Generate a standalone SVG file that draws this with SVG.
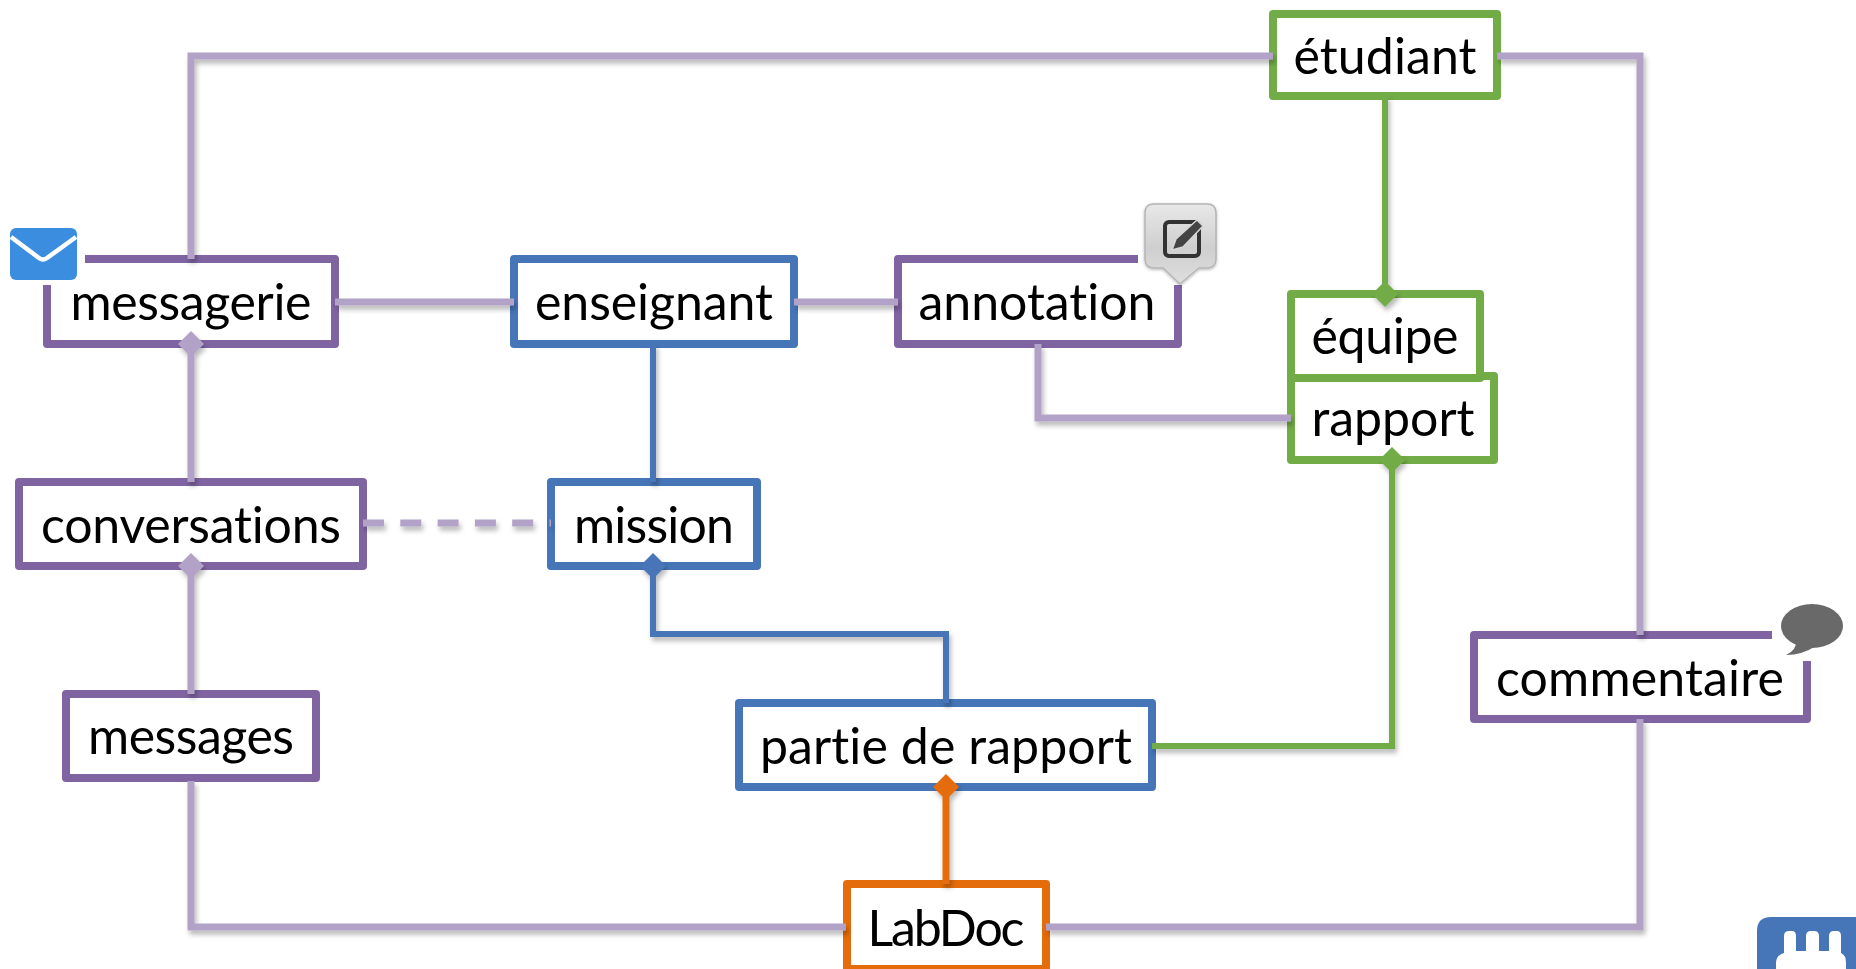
<svg xmlns="http://www.w3.org/2000/svg" width="1856" height="969" viewBox="0 0 1856 969">
<style>
.n{fill:#fff;stroke-width:8;stroke-linejoin:round}
.p{stroke:#8064a2}.b{stroke:#4675b8}.g{stroke:#72ac47}.o{stroke:#e46c0a}
text{font-family:"Lato","Carlito","Liberation Sans",sans-serif;font-size:50px;fill:#000;text-anchor:middle;font-variant-ligatures:none}
.c{fill:none;stroke-width:7;stroke-linejoin:miter}
.lp{stroke:#b2a2c7}.lb{stroke:#4675b8;stroke-width:6}.lg{stroke:#72ac47;stroke-width:6}.lo{stroke:#e46c0a}
</style>
<defs>
<filter id="sh" x="-10%" y="-10%" width="120%" height="120%" filterUnits="objectBoundingBox"><feDropShadow dx="2" dy="4" stdDeviation="2.5" flood-color="#000" flood-opacity="0.28"/></filter>
<filter id="sh2" x="-15%" y="-15%" width="130%" height="130%"><feDropShadow dx="0" dy="1" stdDeviation="1.5" flood-color="#000" flood-opacity="0.3"/></filter>
<marker id="dp" markerUnits="userSpaceOnUse" markerWidth="28" markerHeight="28" refX="14" refY="14" orient="0"><path d="M14 1L27 14L14 27L1 14Z" fill="#b2a2c7"/></marker>
<marker id="db" markerUnits="userSpaceOnUse" markerWidth="28" markerHeight="28" refX="14" refY="14" orient="0"><path d="M14 1L27 14L14 27L1 14Z" fill="#4675b8"/></marker>
<marker id="dg" markerUnits="userSpaceOnUse" markerWidth="28" markerHeight="28" refX="14" refY="14" orient="0"><path d="M14 1L27 14L14 27L1 14Z" fill="#72ac47"/></marker>
<marker id="do" markerUnits="userSpaceOnUse" markerWidth="28" markerHeight="28" refX="14" refY="14" orient="0"><path d="M14 1L27 14L14 27L1 14Z" fill="#e46c0a"/></marker>
<linearGradient id="ed" x1="0" y1="0" x2="0" y2="1"><stop offset="0" stop-color="#e8e8e8"/><stop offset="0.55" stop-color="#cfcfcf"/><stop offset="1" stop-color="#dedede"/></linearGradient>
</defs>
<g id="nodes">
<g id="etudiant"><rect class="n g" x="1273" y="14" width="224" height="82"/><text x="1385" y="74" textLength="183">étudiant</text></g>
<g id="rapport"><rect class="n g" x="1291" y="376" width="203" height="84"/><text x="1393" y="436" textLength="163">rapport</text></g>
<g id="equipe"><rect class="n g" x="1291" y="294" width="189" height="84"/><text x="1385" y="354" textLength="147">équipe</text></g>
<g id="messagerie"><rect class="n p" x="47" y="259" width="288" height="85"/><text x="191" y="320" textLength="241">messagerie</text></g>
<g id="enseignant"><rect class="n b" x="514" y="259" width="280" height="85"/><text x="654" y="320" textLength="238">enseignant</text></g>
<g id="annotation"><rect class="n p" x="898" y="259" width="280" height="85"/><text x="1037" y="320" textLength="237">annotation</text></g>
<g id="conversations"><rect class="n p" x="19" y="482" width="344" height="84"/><text x="191" y="543" textLength="300">conversations</text></g>
<g id="mission"><rect class="n b" x="551" y="482" width="206" height="84"/><text x="654" y="543" textLength="160">mission</text></g>
<g id="messages"><rect class="n p" x="66" y="694" width="250" height="84"/><text x="191" y="754" textLength="206">messages</text></g>
<g id="partie"><rect class="n b" x="739" y="703" width="413" height="84"/><text x="946" y="764" textLength="372">partie de rapport</text></g>
<g id="commentaire"><rect class="n p" x="1474" y="635" width="333" height="84"/><text x="1640" y="696" textLength="288">commentaire</text></g>
<g id="labdoc"><rect class="n o" x="847" y="884" width="199" height="85"/><text x="946" y="946" textLength="157">LabDoc</text></g>
</g>
<g id="connectors" filter="url(#sh)">
<path class="c lp" d="M191 259V56H1273"/>
<path class="c lp" d="M1497 56H1640V635"/>
<path class="c lp" d="M1640 719V927H1046"/>
<path class="c lp" d="M846 927H191V781"/>
<path class="c lp" d="M335 302H514"/>
<path class="c lp" d="M794 302H898"/>
<path class="c lp" d="M1038 344V418H1291"/>
<path class="c lp" d="M191 344V482" marker-start="url(#dp)"/>
<path class="c lp" d="M191 566V694" marker-start="url(#dp)"/>
<path class="c lp" d="M363 523H551" stroke-dasharray="21 16.3"/>
<path class="c lb" d="M653 344V482"/>
<path class="c lb" d="M653 566V634H946V703" marker-start="url(#db)"/>
<path class="c lo" d="M946 787V884" marker-start="url(#do)"/>
<path class="c lg" d="M1152 746H1392V460" marker-end="url(#dg)"/>
<path class="c lg" d="M1385 96V294" marker-end="url(#dg)"/>
</g>
<g id="icon-mail">
<rect x="4" y="222" width="81" height="63" fill="#fff"/>
<rect x="10" y="228" width="67" height="52" rx="6" fill="#3b8de0"/>
<path d="M11 237L39 258Q43 261 47 258L76 237" fill="none" stroke="#fff" stroke-width="4.5"/>
</g>
<g id="icon-edit">
<rect x="1138" y="198" width="86" height="87" fill="#fff"/>
<path d="M1154 204H1207Q1216 204 1216 213V259Q1216 268 1207 268H1199L1180 284L1163 268H1154Q1145 268 1145 259V213Q1145 204 1154 204Z" fill="url(#ed)" stroke="#b5b5b5" stroke-width="1.5" filter="url(#sh2)"/>
<rect x="1165" y="222" width="34" height="34" rx="4" fill="none" stroke="#333" stroke-width="4"/>
<path d="M1172 250L1176 239L1197 220L1203 226L1183 247Z" fill="#444" stroke="#d6d6d6" stroke-width="1.5"/>
</g>
<g id="icon-comment">
<rect x="1772" y="600" width="72" height="61" fill="#fff"/>
<ellipse cx="1812" cy="626" rx="31" ry="22" fill="#696969"/>
<path d="M1796 640Q1797 650 1786 655Q1802 655 1816 646Z" fill="#696969"/>
</g>
<g id="icon-plug">
<path d="M1856 917H1771Q1757 917 1757 931V969H1856Z" fill="#4675b8"/>
<path d="M1776 969V963Q1776 955 1784 953V936Q1784 931 1789 931H1792Q1796 931 1796 936V951H1806V936Q1806 931 1811 931H1814Q1819 931 1819 936V951H1829V936Q1829 931 1834 931H1837Q1841 931 1841 936V953Q1846 955 1846 963V969Z" fill="#fff"/>
</g>
</svg>
